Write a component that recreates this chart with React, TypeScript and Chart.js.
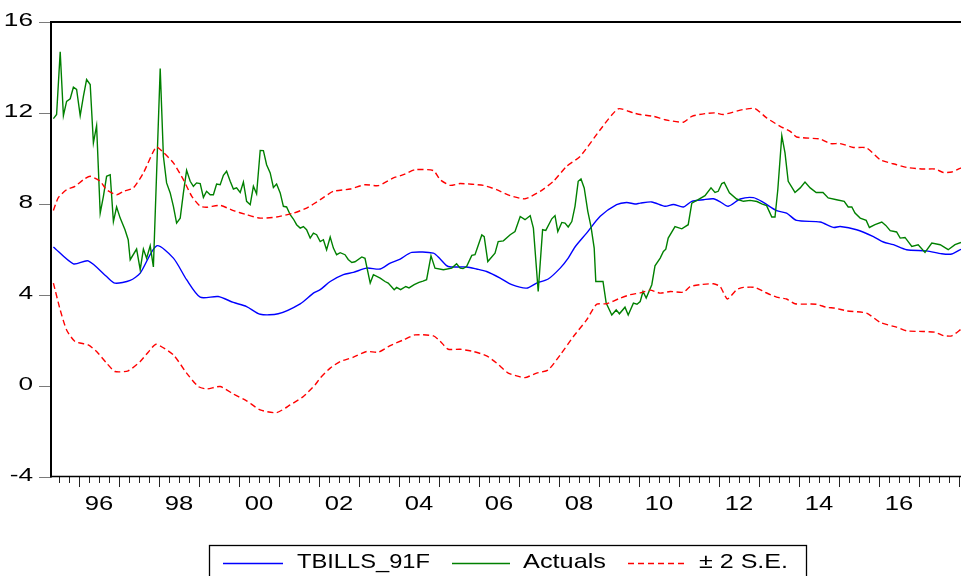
import { useEffect, useRef } from "react";
import { Chart, registerables } from "chart.js";

Chart.register(...registerables);

// ---- data (time in decimal years) ----
const forecastYears = [
  1995.36, 1995.86, 1996.23, 1996.69, 1996.9, 1997.28, 1997.53, 1997.94, 1998.36, 1998.69,
  1999.03, 1999.48, 1999.86, 2000.19, 2000.53, 2000.98, 2001.53, 2001.86, 2002.03, 2002.28,
  2002.61, 2002.86, 2003.19, 2003.53, 2003.78, 2004.03, 2004.32, 2004.86, 2005.03, 2005.23,
  2005.69, 2005.94, 2006.19, 2006.53, 2006.82, 2007.19, 2007.44, 2007.73, 2008.03, 2008.23,
  2008.4, 2008.69, 2009.03, 2009.44, 2009.69, 2009.9, 2010.03, 2010.32, 2010.65, 2010.86,
  2011.11, 2011.32, 2011.61, 2011.86, 2012.03, 2012.23, 2012.53, 2012.86, 2013.11, 2013.44,
  2013.69, 2013.94, 2014.53, 2014.86, 2015.03, 2015.44, 2015.86, 2016.11, 2016.36, 2016.69,
  2017.19, 2017.57, 2017.82, 2018.05,
];
const forecastValues = [
  6.1, 5.36, 5.49, 4.8, 4.51, 4.63, 4.95, 6.15, 5.61, 4.66,
  3.89, 3.92, 3.66, 3.48, 3.14, 3.16, 3.6, 4.07, 4.22, 4.58,
  4.88, 4.98, 5.17, 5.13, 5.39, 5.57, 5.86, 5.83, 5.57, 5.24,
  5.22, 5.13, 5.02, 4.73, 4.44, 4.29, 4.51, 4.69, 5.17, 5.61,
  6.1, 6.71, 7.45, 7.96, 8.06, 7.99, 8.03, 8.08, 7.89, 7.97,
  7.86, 8.11, 8.18, 8.22, 8.09, 7.89, 8.21, 8.27, 8.06, 7.7,
  7.59, 7.27, 7.2, 6.96, 7.0, 6.86, 6.56, 6.32, 6.2, 5.98,
  5.93, 5.8, 5.79, 6.0,
];

const actualYears = [
  1995.36, 1995.44, 1995.53, 1995.61, 1995.69, 1995.78, 1995.86, 1995.94, 1996.03, 1996.11,
  1996.19, 1996.28, 1996.36, 1996.44, 1996.53, 1996.61, 1996.69, 1996.78, 1996.86, 1996.94,
  1997.03, 1997.15, 1997.23, 1997.28, 1997.44, 1997.53, 1997.61, 1997.69, 1997.78, 1997.86,
  1998.03, 1998.11, 1998.19, 1998.28, 1998.36, 1998.44, 1998.53, 1998.61, 1998.69, 1998.78,
  1998.86, 1998.94, 1999.03, 1999.11, 1999.19, 1999.28, 1999.36, 1999.44, 1999.53, 1999.61,
  1999.69, 1999.78, 1999.86, 1999.94, 2000.03, 2000.11, 2000.19, 2000.28, 2000.36, 2000.44,
  2000.53, 2000.61, 2000.69, 2000.78, 2000.86, 2000.94, 2001.03, 2001.11, 2001.19, 2001.28,
  2001.36, 2001.44, 2001.53, 2001.61, 2001.69, 2001.78, 2001.86, 2001.94, 2002.03, 2002.11,
  2002.19, 2002.28, 2002.36, 2002.44, 2002.53, 2002.65, 2002.73, 2002.82, 2002.9, 2003.07,
  2003.15, 2003.28, 2003.36, 2003.53, 2003.65, 2003.73, 2003.88, 2003.94, 2004.04, 2004.17,
  2004.25, 2004.38, 2004.5, 2004.6, 2004.69, 2004.8, 2004.9, 2005.11, 2005.32, 2005.44,
  2005.53, 2005.6, 2005.69, 2005.82, 2005.9, 2006.07, 2006.13, 2006.22, 2006.4, 2006.48,
  2006.61, 2006.78, 2006.9, 2007.03, 2007.15, 2007.28, 2007.36, 2007.48, 2007.59, 2007.67,
  2007.82, 2007.9, 2007.97, 2008.07, 2008.15, 2008.23, 2008.32, 2008.4, 2008.48, 2008.55,
  2008.63, 2008.72, 2008.8, 2008.88, 2008.92, 2009.1, 2009.18, 2009.32, 2009.43, 2009.51,
  2009.65, 2009.73, 2009.86, 2009.95, 2010.03, 2010.1, 2010.18, 2010.32, 2010.4, 2010.53,
  2010.61, 2010.67, 2010.73, 2010.9, 2011.07, 2011.23, 2011.32, 2011.48, 2011.65, 2011.8,
  2011.9, 2011.98, 2012.07, 2012.13, 2012.26, 2012.44, 2012.61, 2012.78, 2012.95, 2013.07,
  2013.19, 2013.32, 2013.4, 2013.47, 2013.57, 2013.65, 2013.73, 2013.9, 2014.03, 2014.15,
  2014.28, 2014.43, 2014.6, 2014.73, 2014.94, 2015.13, 2015.23, 2015.32, 2015.4, 2015.53,
  2015.68, 2015.76, 2015.9, 2016.07, 2016.17, 2016.28, 2016.44, 2016.53, 2016.65, 2016.82,
  2016.98, 2017.15, 2017.32, 2017.53, 2017.73, 2017.9, 2018.05,
];
const actualValues = [
  11.75, 11.93, 14.69, 11.88, 12.51, 12.62, 13.13, 13.03, 11.88, 12.73,
  13.47, 13.25, 10.68, 11.44, 7.59, 8.33, 9.21, 9.28, 7.22, 7.86,
  7.37, 6.86, 6.42, 5.54, 6.01, 5.1, 6.01, 5.61, 6.15, 5.22,
  13.95, 10.09, 8.92, 8.48, 7.89, 7.15, 7.37, 8.48, 9.47, 8.99,
  8.77, 8.92, 8.89, 8.28, 8.55, 8.4, 8.4, 8.87, 8.84, 9.25,
  9.43, 8.99, 8.65, 8.7, 8.5, 8.96, 8.11, 7.96, 8.77, 8.44,
  10.35, 10.34, 9.72, 9.36, 8.72, 8.87, 8.48, 7.89, 7.86, 7.52,
  7.33, 7.08, 6.93, 7.0, 6.86, 6.49, 6.71, 6.64, 6.34, 6.42,
  5.98, 6.54, 6.05, 5.76, 5.85, 5.76, 5.55, 5.42, 5.45, 5.66,
  5.6, 4.51, 4.88, 4.73, 4.58, 4.51, 4.22, 4.32, 4.22, 4.36,
  4.3, 4.44, 4.54, 4.6, 4.66, 5.71, 5.17, 5.1, 5.17, 5.36,
  5.17, 5.15, 5.24, 5.73, 5.76, 6.63, 6.55, 5.46, 5.83, 6.34,
  6.37, 6.64, 6.78, 7.44, 7.3, 7.48, 6.93, 4.14, 6.86, 6.83,
  7.34, 7.48, 6.78, 7.18, 7.15, 6.98, 7.22, 7.89, 8.99, 9.09,
  8.7, 7.67, 7.0, 6.05, 4.58, 4.58, 3.63, 3.11, 3.33, 3.16,
  3.45, 3.11, 3.63, 3.58, 3.7, 4.14, 3.85, 4.44, 5.27, 5.61,
  5.9, 6.0, 6.49, 7.0, 6.9, 7.08, 8.03, 8.18, 8.36, 8.7,
  8.5, 8.55, 8.89, 8.94, 8.48, 8.21, 8.11, 8.15, 8.1, 8.0,
  7.92, 7.42, 7.42, 8.62, 11.0, 10.24, 8.99, 8.5, 8.7, 8.96,
  8.7, 8.5, 8.5, 8.26, 8.18, 8.11, 7.86, 7.86, 7.59, 7.37,
  7.27, 6.96, 7.08, 7.2, 7.05, 6.82, 6.76, 6.49, 6.52, 6.12,
  6.2, 5.86, 6.27, 6.2, 5.98, 6.2, 6.3,
];

const upperYears = [
  1995.36, 1995.48, 1995.69, 1995.9, 1996.11, 1996.28, 1996.53, 1996.69, 1996.94, 1997.11,
  1997.36, 1997.61, 1997.93, 1998.11, 1998.36, 1998.61, 1998.82, 1999.03, 1999.2, 1999.53,
  1999.86, 2000.19, 2000.53, 2000.94, 2001.36, 2001.69, 2002.03, 2002.36, 2002.78, 2003.15,
  2003.48, 2003.86, 2004.11, 2004.4, 2004.86, 2005.03, 2005.28, 2005.53, 2006.11, 2006.44,
  2006.78, 2007.15, 2007.53, 2007.86, 2008.19, 2008.53, 2009.03, 2009.48, 2009.86, 2010.03,
  2010.36, 2010.65, 2011.11, 2011.32, 2011.65, 2011.9, 2012.11, 2012.61, 2012.9, 2013.19,
  2013.53, 2013.78, 2013.94, 2014.53, 2014.78, 2015.03, 2015.36, 2015.69, 2016.03, 2016.44,
  2016.69, 2017.11, 2017.4, 2017.61, 2017.82, 2018.05,
];
const upperValues = [
  7.71, 8.26, 8.62, 8.77, 9.06, 9.21, 8.99, 8.62, 8.4, 8.55,
  8.7, 9.36, 10.5, 10.26, 9.8, 9.06, 8.33, 7.89, 7.85, 7.93,
  7.7, 7.52, 7.37, 7.42, 7.59, 7.81, 8.18, 8.55, 8.65, 8.84,
  8.8, 9.14, 9.28, 9.5, 9.46, 9.06, 8.81, 8.89, 8.81, 8.62,
  8.36, 8.22, 8.55, 8.99, 9.65, 10.09, 11.26, 12.18, 12.0, 11.93,
  11.85, 11.7, 11.59, 11.85, 11.97, 12.0, 11.93, 12.15, 12.19, 11.78,
  11.41, 11.19, 10.94, 10.85, 10.65, 10.65, 10.48, 10.46, 9.94, 9.72,
  9.6, 9.53, 9.53, 9.38, 9.4, 9.58,
];

const lowerYears = [
  1995.36, 1995.53, 1995.69, 1995.9, 1996.23, 1996.44, 1996.69, 1996.9, 1997.23, 1997.53,
  1997.73, 1997.93, 1998.36, 1998.69, 1998.98, 1999.19, 1999.53, 1999.86, 2000.19, 2000.53,
  2000.94, 2001.28, 2001.61, 2001.9, 2002.03, 2002.28, 2002.53, 2002.86, 2003.19, 2003.48,
  2003.78, 2004.11, 2004.4, 2004.86, 2005.03, 2005.23, 2005.53, 2005.86, 2006.19, 2006.44,
  2006.73, 2006.94, 2007.15, 2007.44, 2007.73, 2008.03, 2008.36, 2008.69, 2008.94, 2009.19,
  2009.53, 2009.78, 2010.03, 2010.28, 2010.53, 2010.78, 2011.11, 2011.28, 2011.53, 2011.86,
  2012.03, 2012.21, 2012.44, 2012.61, 2012.9, 2013.15, 2013.44, 2013.69, 2013.9, 2014.44,
  2014.69, 2014.9, 2015.19, 2015.69, 2016.03, 2016.44, 2016.69, 2017.11, 2017.4, 2017.61,
  2017.82, 2018.05,
];
const lowerValues = [
  4.51, 3.33, 2.45, 1.94, 1.79, 1.5, 0.99, 0.62, 0.65, 1.06,
  1.47, 1.82, 1.35, 0.55, -0.04, -0.15, -0.04, -0.37, -0.67, -1.07,
  -1.19, -0.85, -0.48, 0.03, 0.33, 0.77, 1.06, 1.25, 1.5, 1.47,
  1.76, 2.01, 2.23, 2.19, 1.95, 1.6, 1.6, 1.5, 1.31, 0.99,
  0.55, 0.43, 0.35, 0.55, 0.69, 1.35, 2.16, 2.89, 3.58, 3.6,
  3.85, 4.0, 4.08, 4.2, 4.07, 4.14, 4.11, 4.36, 4.44, 4.48,
  4.36, 3.81, 4.22, 4.32, 4.32, 4.11, 3.89, 3.81, 3.6, 3.58,
  3.44, 3.41, 3.29, 3.19, 2.78, 2.57, 2.41, 2.38, 2.35, 2.2,
  2.19, 2.48,
];

// ---- axes and legend text ----
const yTicks = [-4, 0, 4, 8, 12, 16];
const labelYears = [1996, 1998, 2000, 2002, 2004, 2006, 2008, 2010, 2012, 2014, 2016];
const yearLabels = ["96", "98", "00", "02", "04", "06", "08", "10", "12", "14", "16"];
const seriesNames = ["TBILLS_91F", "Actuals", "\u00B1 2 S.E."];

const BLUE = "#0000FF";
const GREEN = "#008000";
const RED = "#FF0000";
const FONT = '"Liberation Sans", Arial, sans-serif';

const X_MIN = 1995.3;
const X_MAX = 2018.05;

const toPoints = (xs: number[], ys: number[]) => xs.map((x, i) => ({ x, y: ys[i] }));

function drawText(
  ctx: CanvasRenderingContext2D,
  text: string,
  x: number,
  y: number,
  sx: number,
  align: "left" | "center" | "right"
) {
  const w = ctx.measureText(text).width * sx;
  const left = align === "right" ? x - w : align === "center" ? x - w / 2 : x;
  ctx.save();
  ctx.translate(left, y);
  ctx.scale(sx, 1);
  ctx.textAlign = "left";
  ctx.textBaseline = "alphabetic";
  ctx.fillText(text, 0, 0);
  ctx.restore();
}

function drawFitted(ctx: CanvasRenderingContext2D, text: string, left: number, y: number, width: number) {
  const sx = width / ctx.measureText(text).width;
  drawText(ctx, text, left, y, sx, "left");
}

function seg(
  ctx: CanvasRenderingContext2D,
  x1: number,
  y1: number,
  x2: number,
  y2: number,
  color: string,
  width: number,
  dash: number[] = []
) {
  ctx.save();
  ctx.strokeStyle = color;
  ctx.lineWidth = width;
  ctx.setLineDash(dash);
  ctx.beginPath();
  ctx.moveTo(x1, y1);
  ctx.lineTo(x2, y2);
  ctx.stroke();
  ctx.restore();
}

// frame, tick marks, tick labels and the boxed legend
const framePlugin = {
  id: "framePlugin",
  afterDatasetsDraw(chart: any) {
    const { ctx, chartArea: a, scales } = chart;
    const xs = scales.x;
    const ys = scales.y;
    ctx.save();

    // y tick marks + labels
    ctx.fillStyle = "#000";
    ctx.font = `19px ${FONT}`;
    yTicks.forEach((v) => {
      const py = Math.round(ys.getPixelForValue(v)) + 0.5;
      seg(ctx, a.left - 12, py, a.left, py, "#7a7a7a", 1);
      drawText(ctx, String(v), 33, py + 3.5, 1.38, "right");
    });

    // x tick marks: years long, quarters short
    for (let q = Math.ceil(X_MIN * 4) / 4; q <= X_MAX + 1e-9; q += 0.25) {
      const px = Math.round(xs.getPixelForValue(q)) + 0.5;
      if (px < a.left + 2) continue;
      const isYear = Math.abs(q - Math.round(q)) < 1e-6;
      seg(ctx, px, a.bottom, px, a.bottom + (isYear ? 10.5 : 6.5), "#222", 1);
    }
    ctx.font = `21px ${FONT}`;
    labelYears.forEach((yr, i) => {
      const px = xs.getPixelForValue(yr + 0.5);
      drawText(ctx, yearLabels[i], px, 509.5, 1.22, "center");
    });

    // frame lines
    seg(ctx, a.left, a.top, a.right, a.top, "#000", 2);
    seg(ctx, a.left, a.top - 1, a.left, a.bottom + 1, "#000", 2);
    seg(ctx, a.left, a.bottom, a.right, a.bottom, "#000", 1.5);

    // legend box
    ctx.strokeStyle = "#000";
    ctx.lineWidth = 1.3;
    ctx.strokeRect(209.5, 545.5, 597, 40);
    const ly = 563.5;
    seg(ctx, 223, ly, 283, ly, BLUE, 1.5);
    seg(ctx, 452, ly, 510, ly, GREEN, 1.5);
    seg(ctx, 628, ly, 686, ly, RED, 1.5, [6, 4]);
    ctx.fillStyle = "#000";
    ctx.font = `21px ${FONT}`;
    drawFitted(ctx, seriesNames[0], 297, 567.5, 133);
    drawFitted(ctx, seriesNames[1], 523, 567.5, 83);
    drawFitted(ctx, seriesNames[2], 699, 567.5, 89);

    ctx.restore();
  },
};

export default function App() {
  const canvasRef = useRef<HTMLCanvasElement | null>(null);

  useEffect(() => {
    const canvas = canvasRef.current;
    if (!canvas) return;
    const line = (label: string, data: { x: number; y: number }[], color: string, dashed = false, tension = 0) => ({
      label,
      data,
      borderColor: color,
      backgroundColor: color,
      borderWidth: 1.4,
      borderDash: dashed ? [6, 3.5] : [],
      pointRadius: 0,
      tension,
      fill: false,
    });
    const chart = new Chart(canvas, {
      type: "line",
      data: {
        datasets: [
          line("upper", toPoints(upperYears, upperValues), RED, true, 0.2),
          line("lower", toPoints(lowerYears, lowerValues), RED, true, 0.2),
          line(seriesNames[1], toPoints(actualYears, actualValues), GREEN),
          line(seriesNames[0], toPoints(forecastYears, forecastValues), BLUE, false, 0.25),
        ],
      },
      options: {
        responsive: false,
        animation: false,
        devicePixelRatio: 1,
        parsing: false as any,
        layout: { padding: { top: 22, left: 0, right: 0, bottom: 0 } },
        plugins: { legend: { display: false }, tooltip: { enabled: false } },
        scales: {
          x: {
            type: "linear",
            min: X_MIN,
            max: X_MAX,
            grid: { display: false },
            border: { display: false },
            ticks: { display: false },
            afterFit: (s: any) => {
              s.height = 99.5;
            },
          },
          y: {
            min: -4,
            max: 16,
            grid: { display: false },
            border: { display: false },
            ticks: { display: false, stepSize: 4 },
            afterFit: (s: any) => {
              s.width = 51;
            },
          },
        },
      },
      plugins: [framePlugin],
    });
    return () => chart.destroy();
  }, []);

  return (
    <div style={{ position: "absolute", left: 0, top: 0, width: 961, height: 576, background: "#fff" }}>
      <canvas ref={canvasRef} width={961} height={576} style={{ display: "block" }} />
    </div>
  );
}
